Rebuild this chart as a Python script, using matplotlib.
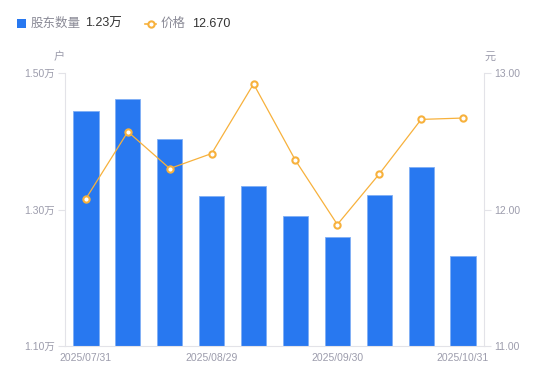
import matplotlib
matplotlib.use("Agg")
import matplotlib.pyplot as plt
from matplotlib.lines import Line2D
from matplotlib.patches import Rectangle

plt.rcParams['font.family'] = ['Liberation Sans', 'Noto Sans CJK SC', 'DejaVu Sans']

dates = ["2025/07/31", "2025/08/08", "2025/08/20", "2025/08/29", "2025/09/10",
         "2025/09/19", "2025/09/30", "2025/10/10", "2025/10/20", "2025/10/31"]
holders = [1.444, 1.462, 1.404, 1.320, 1.335, 1.290, 1.259, 1.321, 1.362, 1.232]  # 万户
prices = [12.08, 12.57, 12.30, 12.41, 12.92, 12.36, 11.89, 12.26, 12.66, 12.67]
left_ticks = [1.10, 1.30, 1.50]
left_labels = ["1.10万", "1.30万", "1.50万"]
right_ticks = [11.00, 12.00, 13.00]
right_labels = ["11.00", "12.00", "13.00"]
shown_idx = [0, 3, 6, 9]

BLUE = "#2878F0"
ORANGE = "#F7B13C"
GRAY_TXT = "#9C9CAC"
AXIS_C = "#E3E3E8"

fig = plt.figure(figsize=(5.5, 3.81), dpi=100)
ax = fig.add_axes([65/550, 1-346/381, (484-65)/550, (346-73)/381])
x = list(range(len(dates)))
ax.bar(x, holders, width=0.6, color=BLUE, edgecolor="#7FAEF5", linewidth=0.6, zorder=2)
ax.set_xlim(-0.5, len(dates)-0.5)
ax.set_ylim(left_ticks[0], left_ticks[-1])
ax.set_yticks(left_ticks)
ax.set_yticklabels(left_labels)
ax.set_xticks([x[i] for i in shown_idx])
ax.set_xticklabels([dates[i] for i in shown_idx])

ax2 = ax.twinx()
ax2.plot(x, prices, color=ORANGE, linewidth=0.9, marker='o', markersize=4.5,
         markerfacecolor='white', markeredgecolor=ORANGE, markeredgewidth=1.5, zorder=3)
ax2.set_ylim(right_ticks[0], right_ticks[-1])
ax2.set_yticks(right_ticks)
ax2.set_yticklabels(right_labels)

for a in (ax, ax2):
    for s in a.spines.values():
        s.set_visible(False)
    a.tick_params(colors=GRAY_TXT, labelsize=7.5, length=5, width=0.8, pad=2)
    a.tick_params(axis='y', color=AXIS_C)
ax.spines['left'].set_visible(True)
ax.spines['left'].set_color(AXIS_C)
ax.spines['bottom'].set_visible(True)
ax.spines['bottom'].set_color(AXIS_C)
ax2.spines['right'].set_visible(True)
ax2.spines['right'].set_color(AXIS_C)
ax.tick_params(axis='x', length=0, pad=5)
ax2.set_zorder(ax.get_zorder()+1)
ax2.patch.set_visible(False)

# unit labels
fig.text(59/550, 1-57/381, "户", color=GRAY_TXT, fontsize=8, ha='center', va='center')
fig.text(490/550, 1-57/381, "元", color=GRAY_TXT, fontsize=8, ha='center', va='center')

# legend
fig.patches.append(Rectangle((17/550, 1-28/381), 9/550, 9/381, transform=fig.transFigure,
                             facecolor=BLUE, edgecolor='none'))
fig.text(31/550, 1-24/381, "股东数量", color="#8A8A96", fontsize=9, va='center')
fig.text(85/550, 1-24/381, "%.2f万" % holders[-1], color="#333333", fontsize=9, va='center')
fig.lines.append(Line2D([145/550, 156/550], [1-24/381, 1-24/381], transform=fig.transFigure,
                        color=ORANGE, linewidth=1.2))
fig.lines.append(Line2D([150.5/550], [1-24/381], transform=fig.transFigure, marker='o',
                        markersize=4.5, markerfacecolor='white', markeredgecolor=ORANGE,
                        markeredgewidth=1.5))
fig.text(161/550, 1-24/381, "价格", color="#8A8A96", fontsize=9, va='center')
fig.text(192/550, 1-24/381, "%.3f" % prices[-1], color="#333333", fontsize=9, va='center')

fig.savefig("out.png", dpi=100)
